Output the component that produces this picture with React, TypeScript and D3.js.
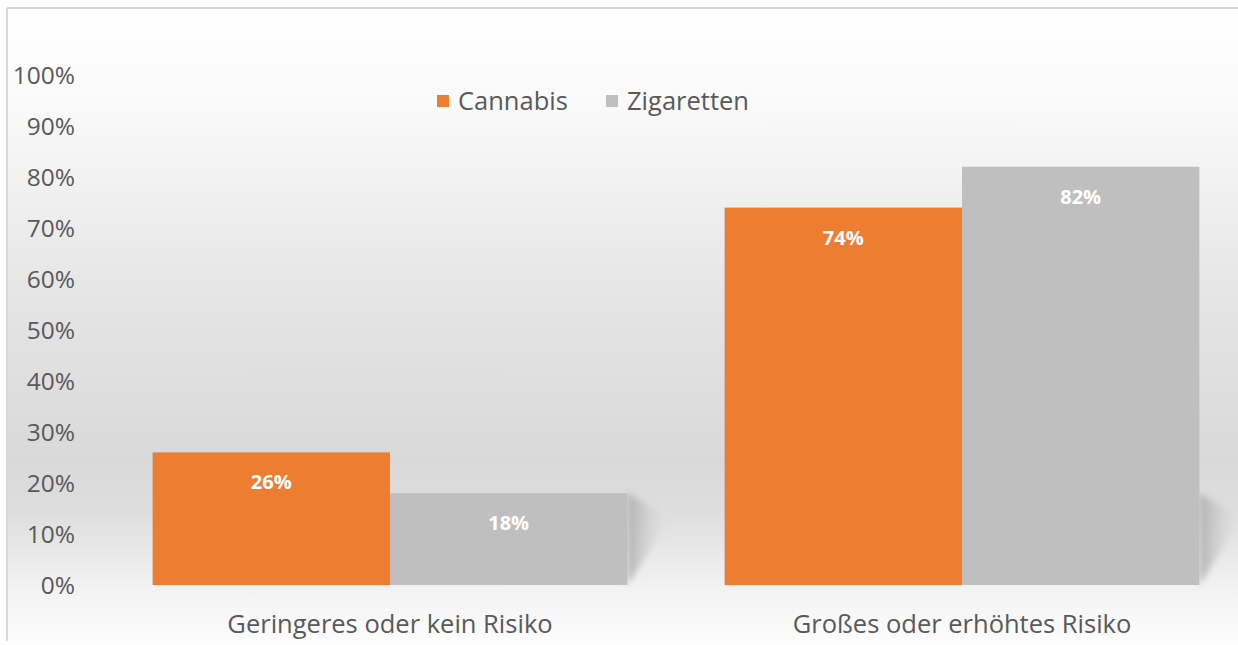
import React from "react";
import * as d3 from "d3";

const categories = ["Geringeres oder kein Risiko", "Großes oder erhöhtes Risiko"];
const seriesNames = ["Cannabis", "Zigaretten"];
const cannabis = [26, 74];
const zigaretten = [18, 82];
const colors = ["#ED7D31", "#BFBFBF"];
const yTicks = [0, 10, 20, 30, 40, 50, 60, 70, 80, 90, 100];

const W = 1238;
const H = 645;
const FONT = "'Open Sans', 'Noto Sans', sans-serif";

export default function App() {
  const x = d3.scaleBand<string>().domain(categories).range([104, 1248]).paddingInner(0.17).paddingOuter(0.085);
  const xs = d3.scaleBand<string>().domain(seriesNames).range([0, x.bandwidth()]);
  const y = d3.scaleLinear().domain([0, 100]).range([585, 75]);
  const series = [cannabis, zigaretten];

  return (
    <svg width={W} height={H} style={{ position: "absolute", left: 0, top: 0 }}>
      <defs>
        <linearGradient id="bg" x1="0" y1="0" x2="0" y2="1">
          <stop offset="0" stopColor="#ffffff" />
          <stop offset="0.14" stopColor="#fafafa" />
          <stop offset="0.3" stopColor="#efefef" />
          <stop offset="0.46" stopColor="#e4e4e4" />
          <stop offset="0.7" stopColor="#d9d9d9" />
          <stop offset="0.78" stopColor="#dedede" />
          <stop offset="0.91" stopColor="#f4f4f4" />
          <stop offset="1" stopColor="#ffffff" />
        </linearGradient>
        <linearGradient id="shadow" x1="0" y1="0" x2="1" y2="0">
          <stop offset="0" stopColor="#a8a8a8" stopOpacity="0.85" />
          <stop offset="1" stopColor="#d0d0d0" stopOpacity="0" />
        </linearGradient>
        <filter id="blur" x="-20%" y="-20%" width="140%" height="140%">
          <feGaussianBlur stdDeviation="3" />
        </filter>
      </defs>
      <rect x={0} y={0} width={W} height={H} fill="#ffffff" />
      <rect x={8} y={9} width={W} height={H} fill="url(#bg)" />
      <line x1={7} y1={8} x2={W} y2={8} stroke="#d9d9d9" strokeWidth={2} />
      <line x1={7} y1={8} x2={7} y2={641} stroke="#d9d9d9" strokeWidth={2} />

      {/* shadows */}
      {categories.map((c) => {
        const x0 = (x(c) as number) + x.bandwidth();
        const b = y(0);
        const hTop = b - 92;
        return (
          <polygon
            key={"sh" + c}
            points={`${x0},${hTop} ${x0 + 30},${hTop + 18} ${x0 + 40},${hTop + 30} ${x0},${b}`}
            fill="url(#shadow)"
            filter="url(#blur)"
          />
        );
      })}

      {/* bars */}
      {categories.map((c, i) =>
        seriesNames.map((s, j) => {
          const v = series[j][i];
          const bx = (x(c) as number) + (xs(s) as number);
          return (
            <g key={c + s}>
              <rect x={bx} y={y(v)} width={xs.bandwidth()} height={y(0) - y(v)} fill={colors[j]} />
              <text
                x={bx + xs.bandwidth() / 2}
                y={y(v) + 37}
                textAnchor="middle"
                fill="#ffffff"
                fontFamily={FONT}
                fontWeight={700}
                fontSize={20}
              >
                {v}%
              </text>
            </g>
          );
        })
      )}

      {/* y axis labels */}
      {yTicks.map((t) => (
        <text key={t} x={75} y={y(t) + 9} textAnchor="end" fill="#595959" fontFamily={FONT} fontSize={24.5}>
          {t}%
        </text>
      ))}

      {/* category labels */}
      {categories.map((c) => (
        <text
          key={c}
          x={(x(c) as number) + x.bandwidth() / 2}
          y={633}
          textAnchor="middle"
          fill="#595959"
          fontFamily={FONT}
          fontSize={25.5}
        >
          {c}
        </text>
      ))}

      {/* legend */}
      {seriesNames.map((s, j) => {
        const lx = [437, 606][j];
        return (
          <g key={s}>
            <rect x={lx} y={95} width={12} height={12} fill={colors[j]} />
            <text x={lx + 21} y={110} fill="#595959" fontFamily={FONT} fontSize={25.5}>
              {s}
            </text>
          </g>
        );
      })}
    </svg>
  );
}
